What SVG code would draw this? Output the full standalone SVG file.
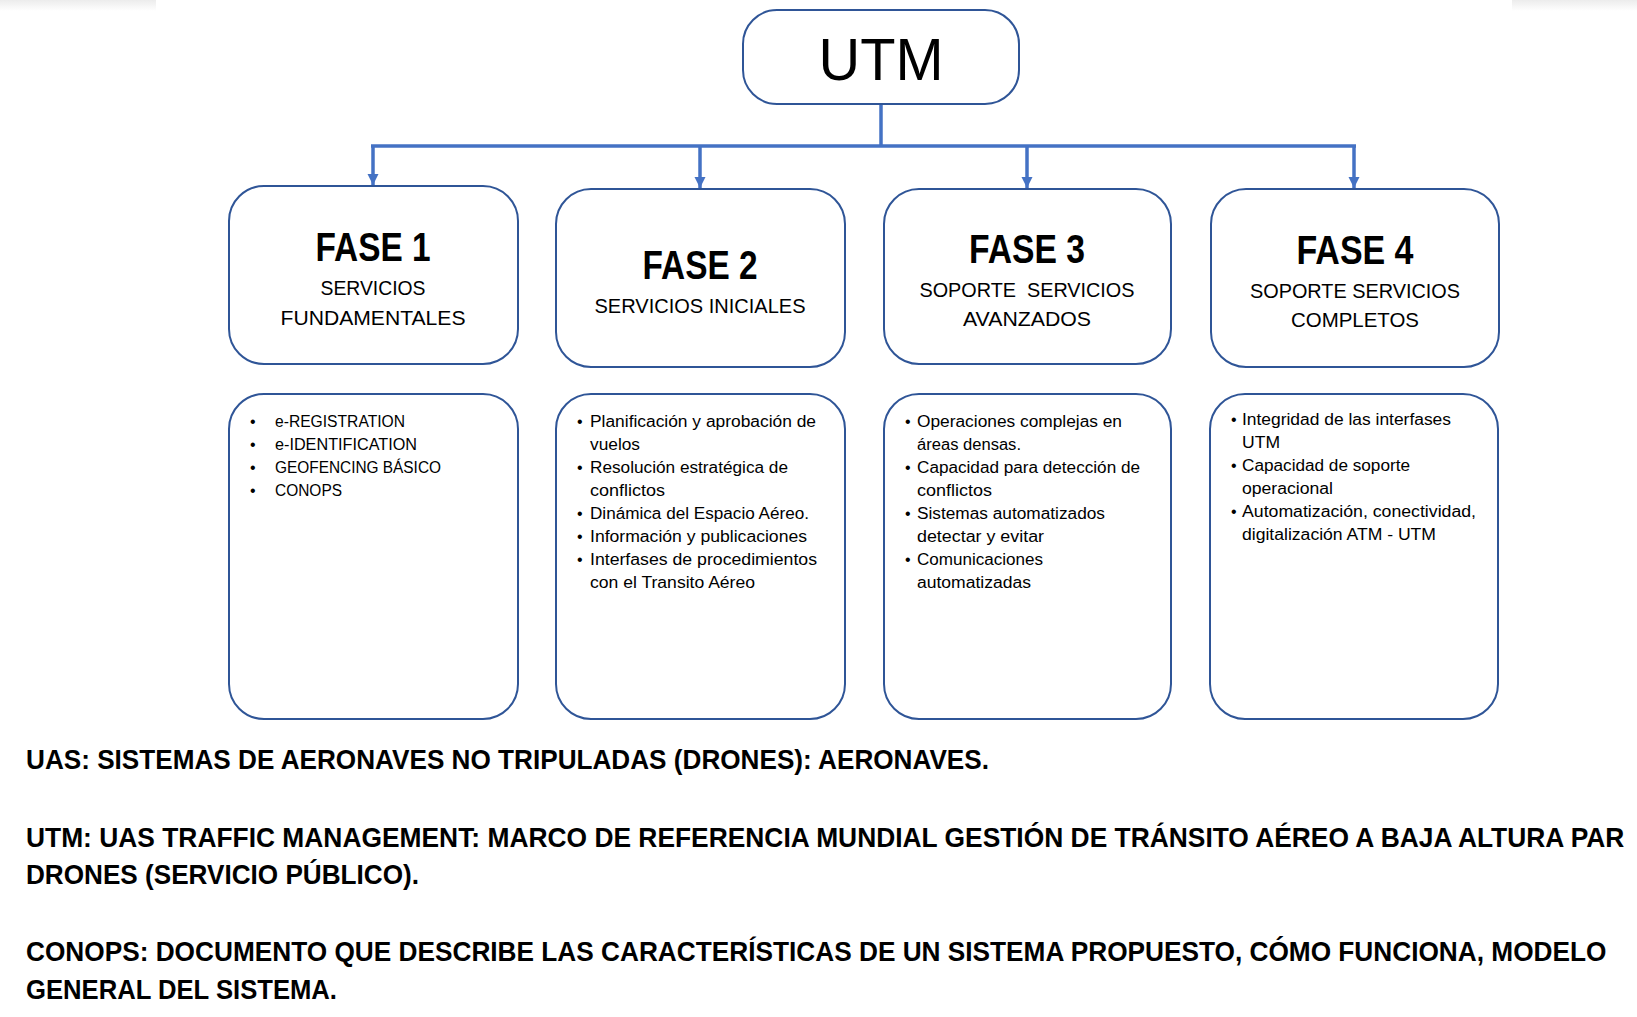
<svg xmlns="http://www.w3.org/2000/svg" width="1637" height="1017" viewBox="0 0 1637 1017">
<defs>
<linearGradient id="shade" x1="0" y1="0" x2="0" y2="1">
<stop offset="0" stop-color="#ececec"/>
<stop offset="1" stop-color="#ffffff"/>
</linearGradient>
<marker id="arr" viewBox="0 0 10 10" refX="10" refY="5" markerWidth="3.2" markerHeight="3.2" markerUnits="strokeWidth" orient="auto">
<path d="M0,0 L10,5 L0,10 Z" fill="#4472C4"/>
</marker>
<style>
.box{fill:#ffffff;stroke:#2F5597;stroke-width:2}
.con{fill:none;stroke:#4472C4;stroke-width:3.5}
.t{font-family:"Liberation Sans",Arial,sans-serif;fill:#000000}
.title{font-size:41px;font-weight:bold;text-anchor:middle}
.sub{font-size:21px;text-anchor:middle}
.bl{font-size:16px}
.note{font-size:28px;font-weight:bold}
</style>
</defs>
<rect width="1637" height="1017" fill="#ffffff"/>
<rect x="0" y="0" width="156" height="11" fill="url(#shade)"/>
<rect x="1512" y="0" width="125" height="11" fill="url(#shade)"/>

<g id="connectors">
<path class="con" d="M881,104 V146"/>
<path class="con" d="M371,146 H1356"/>
<path class="con" d="M373,146 V185" marker-end="url(#arr)"/>
<path class="con" d="M700,146 V188" marker-end="url(#arr)"/>
<path class="con" d="M1027,146 V188" marker-end="url(#arr)"/>
<path class="con" d="M1354,146 V188" marker-end="url(#arr)"/>
</g>

<g id="utm">
<rect class="box" x="743" y="10" width="276" height="94" rx="34"/>
<text class="t" x="881" y="80" font-size="60" text-anchor="middle" textLength="125" lengthAdjust="spacingAndGlyphs">UTM</text>
</g>

<g id="fase1">
<rect class="box" x="229" y="186" width="289" height="178" rx="35"/>
<text class="t title" x="373" y="261" textLength="115" lengthAdjust="spacingAndGlyphs">FASE 1</text>
<text class="t sub" x="373" y="295" textLength="105" lengthAdjust="spacingAndGlyphs">SERVICIOS</text>
<text class="t sub" x="373" y="325" textLength="185" lengthAdjust="spacingAndGlyphs">FUNDAMENTALES</text>
</g>

<g id="fase2">
<rect class="box" x="556" y="189" width="289" height="178" rx="35"/>
<text class="t title" x="700" y="279" textLength="115" lengthAdjust="spacingAndGlyphs">FASE 2</text>
<text class="t sub" x="700" y="313" textLength="211" lengthAdjust="spacingAndGlyphs">SERVICIOS INICIALES</text>
</g>

<g id="fase3">
<rect class="box" x="884" y="189" width="287" height="175" rx="35"/>
<text class="t title" x="1027" y="263" textLength="116" lengthAdjust="spacingAndGlyphs">FASE 3</text>
<text class="t sub" x="1027" y="297" textLength="215" lengthAdjust="spacingAndGlyphs" xml:space="preserve">SOPORTE  SERVICIOS</text>
<text class="t sub" x="1027" y="326" textLength="128" lengthAdjust="spacingAndGlyphs">AVANZADOS</text>
</g>

<g id="fase4">
<rect class="box" x="1211" y="189" width="288" height="178" rx="35"/>
<text class="t title" x="1355" y="264" textLength="117" lengthAdjust="spacingAndGlyphs">FASE 4</text>
<text class="t sub" x="1355" y="298" textLength="210" lengthAdjust="spacingAndGlyphs">SOPORTE SERVICIOS</text>
<text class="t sub" x="1355" y="327" textLength="128" lengthAdjust="spacingAndGlyphs">COMPLETOS</text>
</g>

<g id="detalle1">
<rect class="box" x="229" y="394" width="289" height="325" rx="35"/>
<text class="t bl" x="250" y="427">•</text>
<text class="t bl" x="250" y="450">•</text>
<text class="t bl" x="250" y="473">•</text>
<text class="t bl" x="250" y="496">•</text>
<text class="t bl" x="275" y="427" textLength="130" lengthAdjust="spacingAndGlyphs">e-REGISTRATION</text>
<text class="t bl" x="275" y="450" textLength="142" lengthAdjust="spacingAndGlyphs">e-IDENTIFICATION</text>
<text class="t bl" x="275" y="473" textLength="166" lengthAdjust="spacingAndGlyphs">GEOFENCING BÁSICO</text>
<text class="t bl" x="275" y="496" textLength="67" lengthAdjust="spacingAndGlyphs">CONOPS</text>
</g>

<g id="detalle2">
<rect class="box" x="556" y="394" width="289" height="325" rx="35"/>
<text class="t bl" x="577" y="427">•</text>
<text class="t bl" x="577" y="473">•</text>
<text class="t bl" x="577" y="519">•</text>
<text class="t bl" x="577" y="542">•</text>
<text class="t bl" x="577" y="565">•</text>
<text class="t bl" x="590" y="427" textLength="226" lengthAdjust="spacingAndGlyphs">Planificación y aprobación de</text>
<text class="t bl" x="590" y="450" textLength="50" lengthAdjust="spacingAndGlyphs">vuelos</text>
<text class="t bl" x="590" y="473" textLength="198" lengthAdjust="spacingAndGlyphs">Resolución estratégica de</text>
<text class="t bl" x="590" y="496" textLength="75" lengthAdjust="spacingAndGlyphs">conflictos</text>
<text class="t bl" x="590" y="519" textLength="219" lengthAdjust="spacingAndGlyphs">Dinámica del Espacio Aéreo.</text>
<text class="t bl" x="590" y="542" textLength="217" lengthAdjust="spacingAndGlyphs">Información y publicaciones</text>
<text class="t bl" x="590" y="565" textLength="227" lengthAdjust="spacingAndGlyphs">Interfases de procedimientos</text>
<text class="t bl" x="590" y="588" textLength="165" lengthAdjust="spacingAndGlyphs">con el Transito Aéreo</text>
</g>

<g id="detalle3">
<rect class="box" x="884" y="394" width="287" height="325" rx="35"/>
<text class="t bl" x="905" y="427">•</text>
<text class="t bl" x="905" y="473">•</text>
<text class="t bl" x="905" y="519">•</text>
<text class="t bl" x="905" y="565">•</text>
<text class="t bl" x="917" y="427" textLength="205" lengthAdjust="spacingAndGlyphs">Operaciones complejas en</text>
<text class="t bl" x="917" y="450" textLength="104" lengthAdjust="spacingAndGlyphs">áreas densas.</text>
<text class="t bl" x="917" y="473" textLength="223" lengthAdjust="spacingAndGlyphs">Capacidad para detección de</text>
<text class="t bl" x="917" y="496" textLength="75" lengthAdjust="spacingAndGlyphs">conflictos</text>
<text class="t bl" x="917" y="519" textLength="188" lengthAdjust="spacingAndGlyphs">Sistemas automatizados</text>
<text class="t bl" x="917" y="542" textLength="127" lengthAdjust="spacingAndGlyphs">detectar y evitar</text>
<text class="t bl" x="917" y="565" textLength="126" lengthAdjust="spacingAndGlyphs">Comunicaciones</text>
<text class="t bl" x="917" y="588" textLength="114" lengthAdjust="spacingAndGlyphs">automatizadas</text>
</g>

<g id="detalle4">
<rect class="box" x="1210" y="394" width="288" height="325" rx="35"/>
<text class="t bl" x="1231" y="425">•</text>
<text class="t bl" x="1231" y="471">•</text>
<text class="t bl" x="1231" y="517">•</text>
<text class="t bl" x="1242" y="425" textLength="209" lengthAdjust="spacingAndGlyphs">Integridad de las interfases</text>
<text class="t bl" x="1242" y="448" textLength="38" lengthAdjust="spacingAndGlyphs">UTM</text>
<text class="t bl" x="1242" y="471" textLength="168" lengthAdjust="spacingAndGlyphs">Capacidad de soporte</text>
<text class="t bl" x="1242" y="494" textLength="91" lengthAdjust="spacingAndGlyphs">operacional</text>
<text class="t bl" x="1242" y="517" textLength="234" lengthAdjust="spacingAndGlyphs">Automatización, conectividad,</text>
<text class="t bl" x="1242" y="540" textLength="194" lengthAdjust="spacingAndGlyphs">digitalización ATM - UTM</text>
</g>

<g id="notas">
<text class="t note" x="26" y="769" textLength="963" lengthAdjust="spacingAndGlyphs">UAS: SISTEMAS DE AERONAVES NO TRIPULADAS (DRONES): AERONAVES.</text>
<text class="t note" x="0" y="0" transform="translate(26,847) scale(0.9,1)" textLength="1776" lengthAdjust="spacingAndGlyphs">UTM: UAS TRAFFIC MANAGEMENT: MARCO DE REFERENCIA MUNDIAL GESTIÓN DE TRÁNSITO AÉREO A BAJA ALTURA PAR</text>
<text class="t note" x="26" y="884" textLength="393" lengthAdjust="spacingAndGlyphs">DRONES (SERVICIO PÚBLICO).</text>
<text class="t note" x="0" y="0" transform="translate(26,961) scale(0.9,1)" textLength="1756" lengthAdjust="spacingAndGlyphs">CONOPS: DOCUMENTO QUE DESCRIBE LAS CARACTERÍSTICAS DE UN SISTEMA PROPUESTO, CÓMO FUNCIONA, MODELO</text>
<text class="t note" x="26" y="999" textLength="311" lengthAdjust="spacingAndGlyphs">GENERAL DEL SISTEMA.</text>
</g>
</svg>
